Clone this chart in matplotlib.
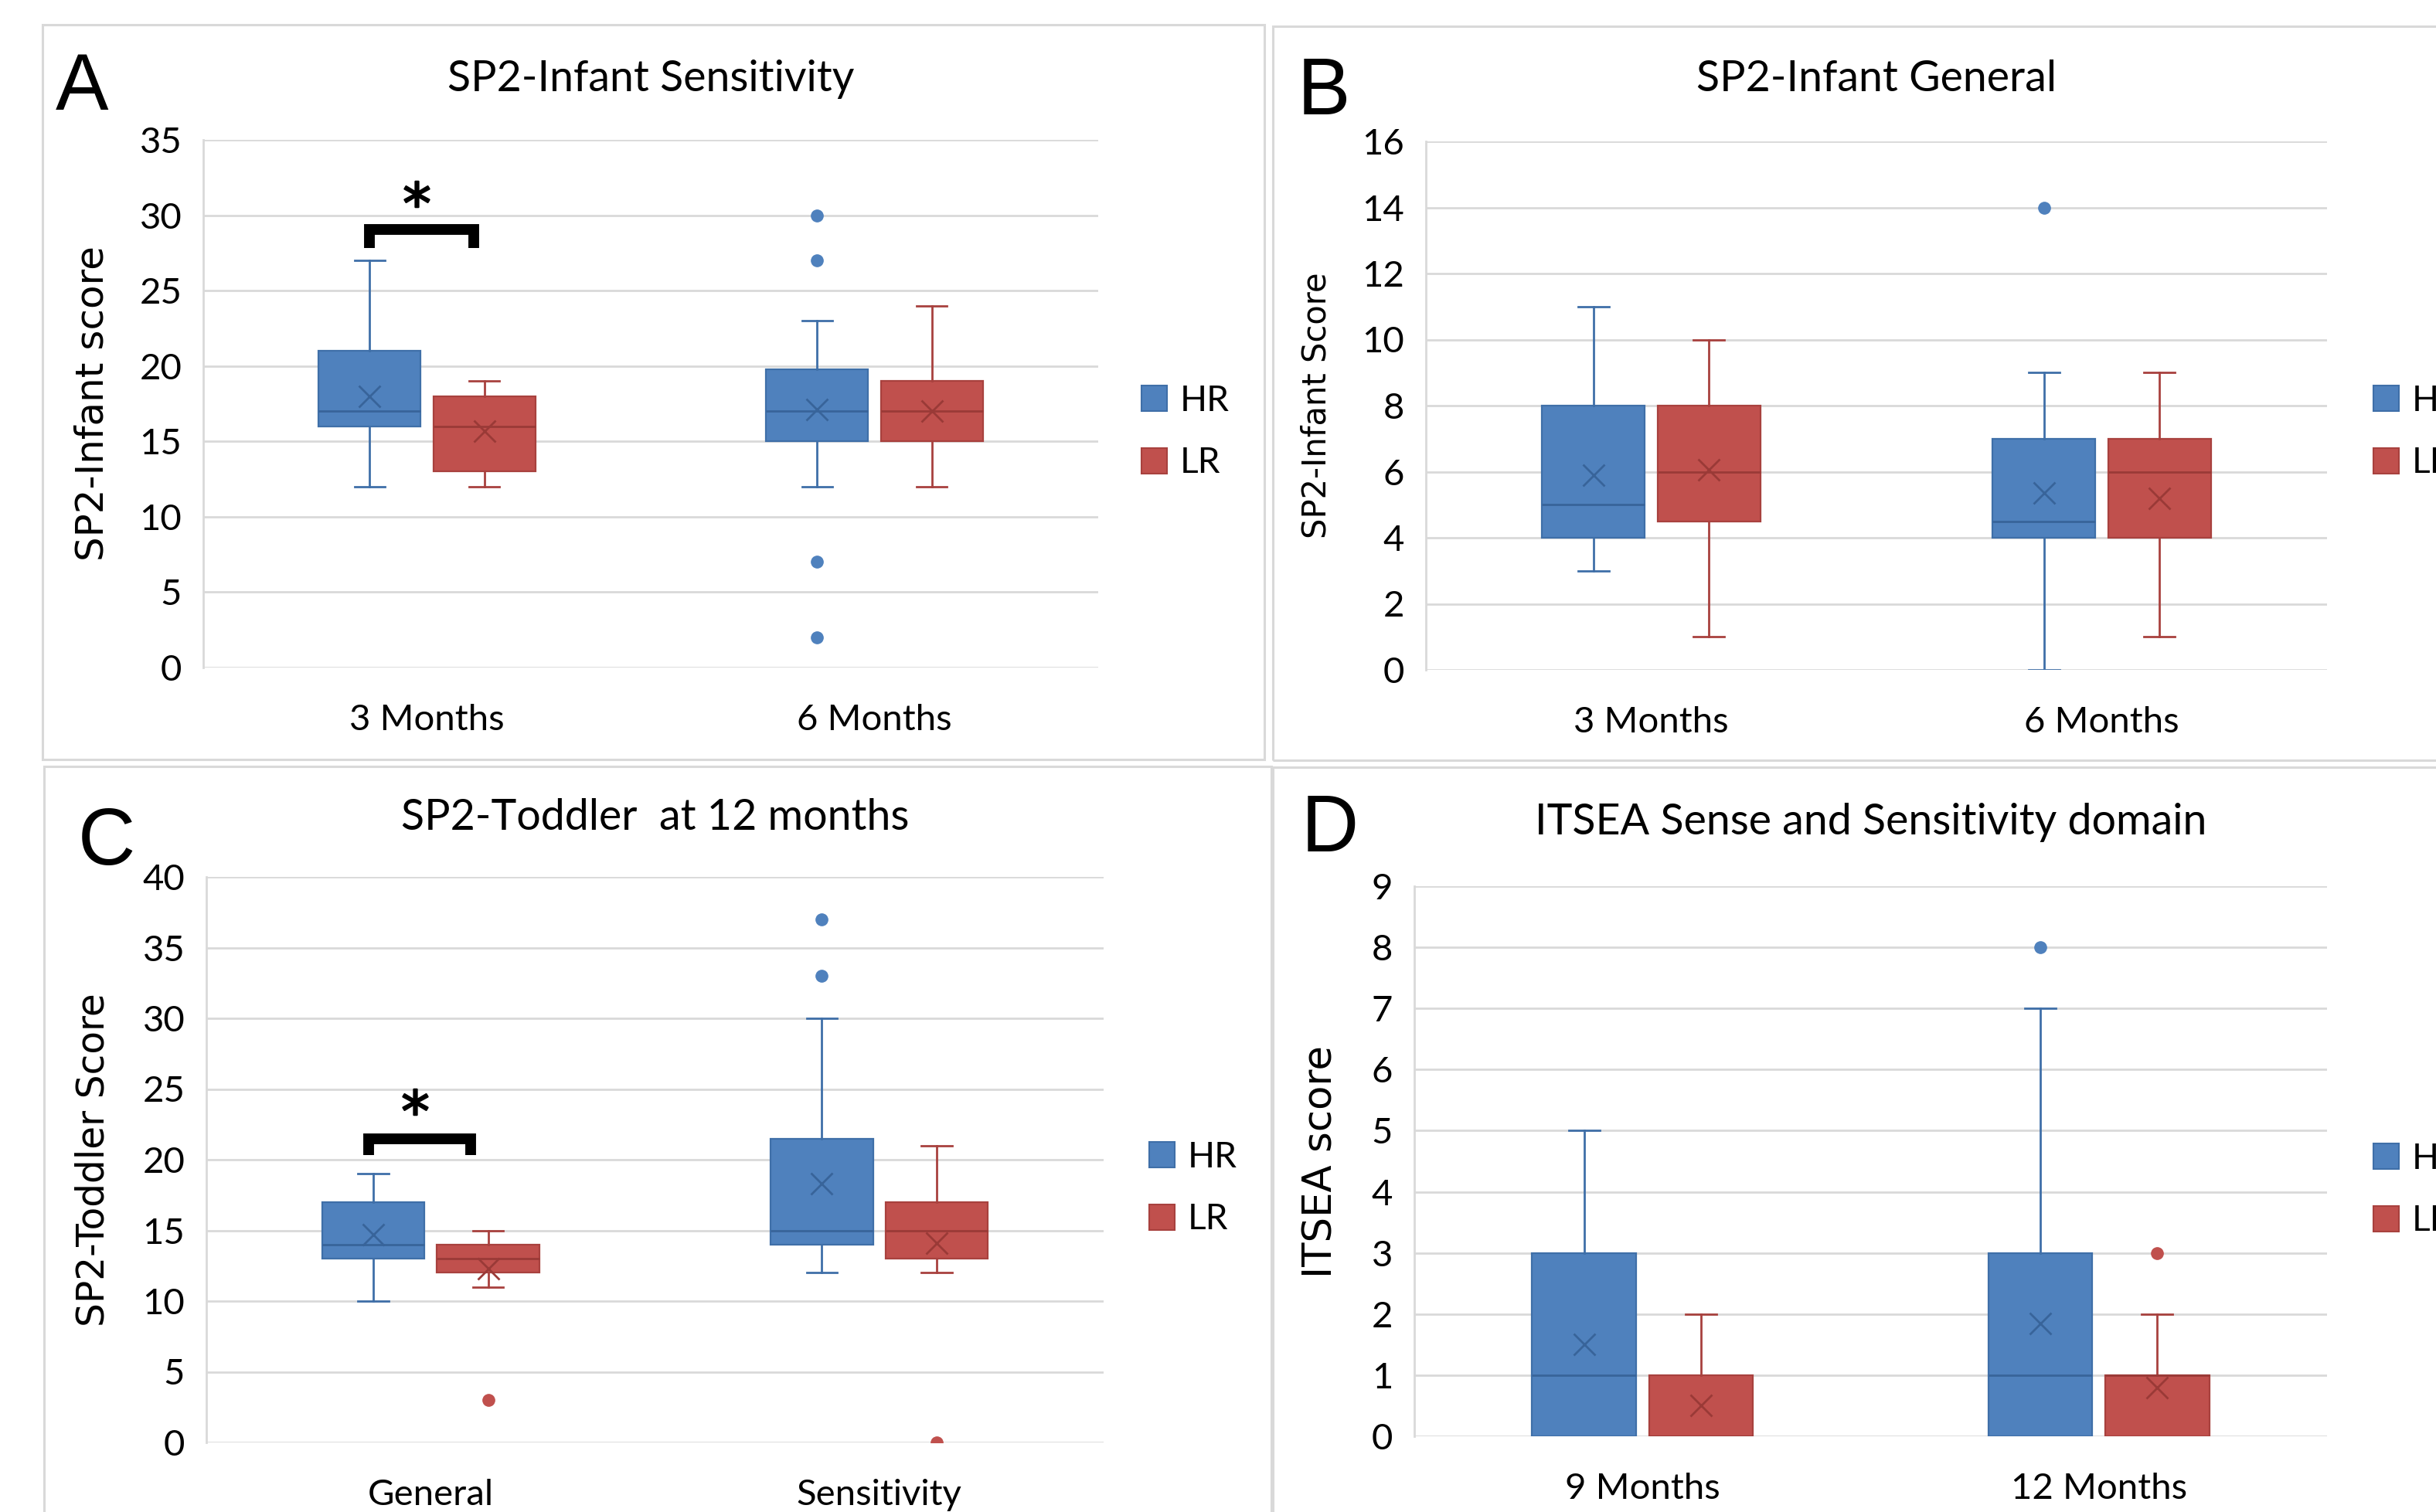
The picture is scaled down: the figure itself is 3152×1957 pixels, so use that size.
import matplotlib
matplotlib.use("Agg")
import matplotlib.pyplot as plt
from matplotlib.patches import Rectangle, Patch

plt.rcParams['font.family'] = ['Lato', 'DejaVu Sans']

# rows: (whisker low, q1, median, q3, whisker high, mean)
A_cats = ['3 Months', '6 Months']
A_HR = [(12, 16, 17, 21, 27, 18.0), (12, 15, 17, 19.8, 23, 17.1)]
A_HR_OUT = [[], [30, 27, 7, 2]]
A_LR = [(12, 13, 16, 18, 19, 15.7), (12, 15, 17, 19, 24, 17.0)]
A_LR_OUT = [[], []]

B_cats = ['3 Months', '6 Months']
B_HR = [(3, 4, 5, 8, 11, 5.9), (0, 4, 4.5, 7, 9, 5.35)]
B_HR_OUT = [[], [14]]
B_LR = [(1, 4.5, 6, 8, 10, 6.05), (1, 4, 6, 7, 9, 5.2)]
B_LR_OUT = [[], []]

C_cats = ['General', 'Sensitivity']
C_HR = [(10, 13, 14, 17, 19, 14.7), (12, 14, 15, 21.5, 30, 18.3)]
C_HR_OUT = [[], [33, 37]]
C_LR = [(11, 12, 13, 14, 15, 12.3), (12, 13, 15, 17, 21, 14.1)]
C_LR_OUT = [[3], [0]]

D_cats = ['9 Months', '12 Months']
D_HR = [(0, 0, 1, 3, 5, 1.5), (0, 0, 1, 3, 7, 1.85)]
D_HR_OUT = [[], [8]]
D_LR = [(0, 0, 0, 1, 2, 0.5), (0, 0, 1, 1, 2, 0.8)]
D_LR_OUT = [[], [3]]

# significance brackets (x from, x to, bar y, leg bottom y, star x, star y)
A_SIG = (0.372, 0.604, 29.06, 27.85, 0.477, 31.4)
C_SIG = (0.362, 0.590, 21.48, 20.33, 0.465, 24.1)

W, H = 3152, 1957
HR_FILL, HR_EDGE, HR_DARK = '#4F81BD', '#3F6FA8', '#38649A'
LR_FILL, LR_EDGE, LR_DARK = '#C0504D', '#A8413E', '#9A3A37'
GRID = '#D9D9D9'

fig = plt.figure(figsize=(W / 100, H / 100), dpi=100)


def fx(px):
    return px / W


def fy(py):
    return 1 - py / H


def stats(rows, outs):
    res = []
    for (lo, q1, med, q3, hi, mean), out in zip(rows, outs):
        res.append(dict(whislo=lo, q1=q1, med=med, q3=q3, whishi=hi,
                        mean=mean, fliers=out))
    return res


def draw_series(ax, rows, outs, pos, fill, edge, dark):
    ax.bxp(stats(rows, outs), positions=pos, widths=0.228, capwidths=0.068,
           patch_artist=True, showmeans=True, manage_ticks=False,
           boxprops=dict(facecolor=fill, edgecolor=edge, linewidth=1.6),
           whiskerprops=dict(color=edge, linewidth=2.0),
           capprops=dict(color=edge, linewidth=2.0),
           medianprops=dict(color=dark, linewidth=2.0),
           meanprops=dict(marker='x', markeredgecolor=dark, markersize=20,
                          markeredgewidth=2.0),
           flierprops=dict(marker='o', markerfacecolor=fill,
                           markeredgecolor=fill, markersize=11))


def panel(l, t, r, b, cats, hr, hr_out, lr, lr_out, ymax, ystep,
          title, title_y, ylabel, ysize, ylab_x, letter, let_xy, leg_xy,
          sig=None):
    ax = fig.add_axes([fx(l), fy(b), fx(r - l), (b - t) / H])
    centers = [0.5, 1.5]
    draw_series(ax, hr, hr_out, [c - 0.128 for c in centers],
                HR_FILL, HR_EDGE, HR_DARK)
    draw_series(ax, lr, lr_out, [c + 0.128 for c in centers],
                LR_FILL, LR_EDGE, LR_DARK)
    ax.set_xlim(0, 2)
    ax.set_ylim(0, ymax)
    ax.set_yticks(range(0, ymax + 1, ystep))
    ax.set_xticks(centers)
    ax.set_xticklabels(cats)
    ax.tick_params(axis='both', length=0, labelsize=34)
    ax.tick_params(axis='y', pad=20)
    ax.tick_params(axis='x', pad=34)
    ax.grid(axis='y', color=GRID, linewidth=2.0)
    ax.set_axisbelow(True)
    for s in ['top', 'right', 'bottom']:
        ax.spines[s].set_visible(False)
    ax.spines['left'].set_color(GRID)
    ax.spines['left'].set_linewidth(2.0)
    fig.text(fx((l + r) / 2), fy(title_y), title, fontsize=40,
             ha='center', va='center')
    fig.text(fx(ylab_x), fy((t + b) / 2), ylabel, fontsize=ysize,
             family='DejaVu Sans', rotation=90, ha='center', va='center')
    fig.text(fx(let_xy[0]), fy(let_xy[1]), letter, fontsize=74,
             family='Liberation Sans', ha='center', va='center')
    handles = [Patch(facecolor=HR_FILL, edgecolor=HR_EDGE, linewidth=1.5),
               Patch(facecolor=LR_FILL, edgecolor=LR_EDGE, linewidth=1.5)]
    ax.legend(handles, ['HR', 'LR'], loc='center left',
              bbox_to_anchor=(fx(leg_xy[0]), fy(leg_xy[1])),
              bbox_transform=fig.transFigure, frameon=False, fontsize=33,
              handlelength=0.72, handleheight=0.72, handletextpad=0.37,
              labelspacing=0.85, borderpad=0, borderaxespad=0)
    if sig is not None:
        x0, x1, ybar, yleg, xstar, ystar = sig
        ax.plot([x0, x0, x1, x1], [yleg, ybar, ybar, yleg], color='black',
                linewidth=10, solid_joinstyle='miter',
                solid_capstyle='butt', clip_on=False)
        ax.plot([xstar], [ystar], linestyle='none', marker='$*$',
                markersize=24, color='black', markeredgewidth=1.6,
                clip_on=False)
    return ax


# panel frames
for (l, t, r, b) in [(55, 32, 1636, 983), (1647, 34, 3170, 984),
                     (57, 992, 1645, 1970), (1647, 993, 3170, 1970)]:
    fig.add_artist(Rectangle((fx(l), fy(b)), fx(r - l), (b - t) / H,
                             transform=fig.transFigure, fill=False,
                             edgecolor=GRID, linewidth=2.2))

panel(263, 181, 1421, 864, A_cats, A_HR, A_HR_OUT, A_LR, A_LR_OUT, 35, 5,
      'SP2-Infant Sensitivity', 102, 'SP2-Infant score', 36, 120,
      'A', (106, 116), (1477, 559), sig=A_SIG)
panel(1845, 183, 3011, 867, B_cats, B_HR, B_HR_OUT, B_LR, B_LR_OUT, 16, 2,
      'SP2-Infant General', 103, 'SP2-Infant Score', 30, 1703,
      'B', (1713, 121), (3071, 559))
panel(267, 1135, 1428, 1867, C_cats, C_HR, C_HR_OUT, C_LR, C_LR_OUT, 40, 5,
      'SP2-Toddler  at 12 months', 1058, 'SP2-Toddler Score', 35, 121,
      'C', (138, 1092), (1487, 1538), sig=C_SIG)
panel(1830, 1147, 3011, 1859, D_cats, D_HR, D_HR_OUT, D_LR, D_LR_OUT, 9, 1,
      'ITSEA Sense and Sensitivity domain', 1064, 'ITSEA score', 37, 1710,
      'D', (1721, 1075), (3071, 1540))

fig.savefig('out.png', dpi=100)
